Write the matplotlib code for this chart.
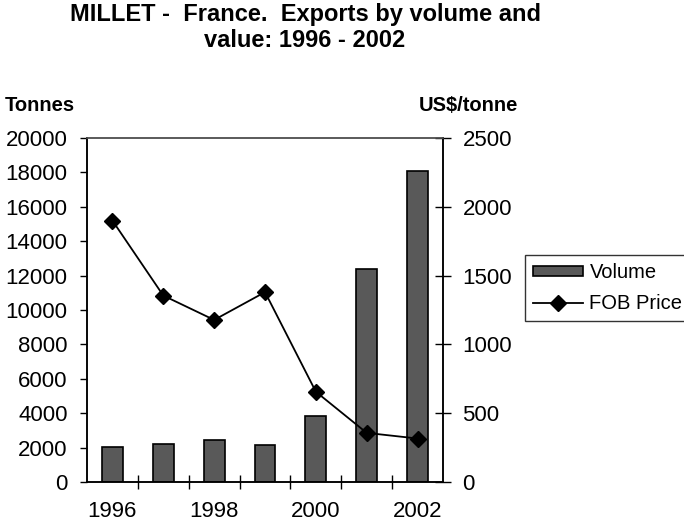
import numpy as np
import matplotlib
matplotlib.use("Agg")
import matplotlib.pyplot as plt
from matplotlib.lines import Line2D
from matplotlib.patches import Patch

plt.rcParams['font.family'] = ['Liberation Sans', 'DejaVu Sans']

# -------------------------------
# Data
# -------------------------------
years = [1996, 1997, 1998, 1999, 2000, 2001, 2002]
volume = [2040, 2230, 2430, 2130, 3850, 12370, 18060]   # tonnes
fob_price = [1900, 1355, 1178, 1380, 656, 357, 316]     # US$/tonne
year_labels = ['1996', '', '1998', '', '2000', '', '2002']

# -------------------------------
# Figure
# -------------------------------
fig = plt.figure(figsize=(6.84, 5.28), dpi=100)
ax = fig.add_axes([0.1272, 0.0871, 0.5205, 0.6515])
ax2 = ax.twinx()

x = np.arange(len(years))
ax.bar(x, volume, width=0.41, color='#595959', edgecolor='black', linewidth=1.2, zorder=2)
ax2.plot(x, fob_price, color='black', linewidth=1.3, marker='D', markersize=8, zorder=3)

ax.set_xlim(-0.5, len(years) - 0.5)
ax.set_ylim(0, 20000)
ax2.set_ylim(0, 2500)
ax.set_yticks(np.arange(0, 20001, 2000))
ax2.set_yticks(np.arange(0, 2501, 500))

# category labels at centres, tick marks between categories
ax.set_xticks(x)
ax.set_xticklabels(year_labels)
ax.set_xticks(np.arange(0.5, len(years) - 0.5, 1), minor=True)
ax.tick_params(axis='x', which='major', length=0, pad=14, labelsize=16)
ax.tick_params(axis='x', which='minor', direction='inout', length=9.5, width=1)
ax.tick_params(axis='y', direction='out', length=5, width=1, labelsize=16, pad=9)
ax2.tick_params(axis='y', direction='inout', length=11, width=1, labelsize=16, pad=8.5)

for a in (ax, ax2):
    for s in a.spines.values():
        s.set_linewidth(1.1)
        s.set_color('black')
ax.spines['top'].set_color('#555555')
ax2.spines['top'].set_color('#555555')

# titles
fig.text(0.446, 0.948, 'MILLET -  France.  Exports by volume and\nvalue: 1996 - 2002',
         ha='center', va='center', fontsize=17, fontweight='bold', linespacing=1.15)
fig.text(0.007, 0.801, 'Tonnes', ha='left', va='center', fontsize=14.5, fontweight='bold')
fig.text(0.757, 0.801, 'US$/tonne', ha='right', va='center', fontsize=14.5, fontweight='bold')

# legend
handles = [Patch(facecolor='#595959', edgecolor='black', linewidth=1.2),
           Line2D([], [], color='black', linewidth=1.3, marker='D', markersize=8)]
leg = fig.legend(handles, ['Volume', 'FOB Price'], loc='upper left',
                 bbox_to_anchor=(0.7675, 0.517), borderaxespad=0, fontsize=14.5,
                 frameon=True, fancybox=False, edgecolor='black', handlelength=2.5,
                 handleheight=0.35, borderpad=0.4, labelspacing=0.6, handletextpad=0.3)
leg.get_frame().set_linewidth(1.0)

fig.savefig('out.png', dpi=100)
